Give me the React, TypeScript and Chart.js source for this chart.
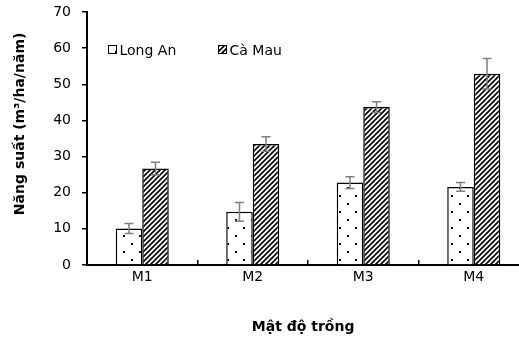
import React, { useEffect, useRef } from 'react';
import { Chart, registerables } from 'chart.js';

Chart.register(...registerables);

const categories = ['M1', 'M2', 'M3', 'M4'];
const seriesNames = ['Long An', 'Cà Mau'];
const longAn = [10.1, 14.7, 22.8, 21.6];
const longAnErr = [1.4, 2.6, 1.6, 1.2];
const caMau = [26.7, 33.5, 43.7, 52.9];
const caMauErr = [1.7, 2.0, 1.5, 4.2];
const yMin = 0;
const yMax = 70;
const yStep = 10;
const yTitle = '      Năng suất (m³/ha/năm)';
const xTitle = 'Mật độ trồng  ';

function makeDots(): CanvasPattern {
  const c = document.createElement('canvas');
  c.width = 16;
  c.height = 16;
  const g = c.getContext('2d')!;
  g.fillStyle = '#fff';
  g.fillRect(0, 0, 16, 16);
  g.fillStyle = '#000';
  g.fillRect(3, 3, 2, 2);
  g.fillRect(11, 11, 2, 2);
  return g.createPattern(c, 'repeat')!;
}

function makeHatch(): CanvasPattern {
  const s = 5;
  const c = document.createElement('canvas');
  c.width = s;
  c.height = s;
  const g = c.getContext('2d')!;
  g.fillStyle = '#fff';
  g.fillRect(0, 0, s, s);
  g.strokeStyle = '#000';
  g.lineWidth = 1.7;
  g.beginPath();
  g.moveTo(0, s);
  g.lineTo(s, 0);
  g.moveTo(-1, 1);
  g.lineTo(1, -1);
  g.moveTo(s - 1, s + 1);
  g.lineTo(s + 1, s - 1);
  g.stroke();
  return g.createPattern(c, 'repeat')!;
}

const errorBarPlugin = {
  id: 'errorBars',
  afterDatasetsDraw(chart: any) {
    const ctx = chart.ctx;
    const yScale = chart.scales.y;
    ctx.save();
    ctx.strokeStyle = '#7f7f7f';
    ctx.lineWidth = 1.5;
    chart.data.datasets.forEach((ds: any, i: number) => {
      const meta = chart.getDatasetMeta(i);
      meta.data.forEach((bar: any, j: number) => {
        const v = ds.data[j];
        const e = ds.errors[j];
        const x = bar.x;
        const yt = yScale.getPixelForValue(v + e);
        const yb = yScale.getPixelForValue(v - e);
        const cap = 4.5;
        ctx.beginPath();
        ctx.moveTo(x, yt);
        ctx.lineTo(x, yb);
        ctx.moveTo(x - cap, yt);
        ctx.lineTo(x + cap, yt);
        ctx.moveTo(x - cap, yb);
        ctx.lineTo(x + cap, yb);
        ctx.stroke();
      });
    });
    ctx.restore();
  },
};

const legendPlugin = {
  id: 'insideLegend',
  afterDraw(chart: any) {
    const ctx = chart.ctx;
    const area = chart.chartArea;
    ctx.save();
    ctx.font = '14px "DejaVu Sans"';
    ctx.textBaseline = 'alphabetic';
    ctx.textAlign = 'left';
    chart.data.datasets.forEach((ds: any, i: number) => {
      const bx = area.left + 21.5 + i * 110;
      const by = area.top + 33.5;
      ctx.fillStyle = ds.backgroundColor;
      ctx.fillRect(bx, by, 8, 8);
      ctx.strokeStyle = '#000';
      ctx.lineWidth = 1;
      ctx.strokeRect(bx, by, 8, 8);
      ctx.fillStyle = '#000';
      ctx.fillText(ds.label, bx + 11, by + 9.5);
    });
    ctx.restore();
  },
};

export default function App() {
  const ref = useRef<HTMLCanvasElement>(null);
  useEffect(() => {
    const canvas = ref.current!;
    Chart.defaults.font.family = '"DejaVu Sans", sans-serif';
    Chart.defaults.color = '#000';
    const chart = new Chart(canvas, {
      type: 'bar',
      data: {
        labels: categories,
        datasets: [
          {
            label: seriesNames[0],
            data: longAn,
            errors: longAnErr,
            backgroundColor: makeDots(),
            borderColor: '#000',
            borderWidth: 1.5,
            categoryPercentage: 0.48,
            barPercentage: 1,
          } as any,
          {
            label: seriesNames[1],
            data: caMau,
            errors: caMauErr,
            backgroundColor: makeHatch(),
            borderColor: '#000',
            borderWidth: 1.5,
            categoryPercentage: 0.48,
            barPercentage: 1,
          } as any,
        ],
      },
      options: {
        responsive: false,
        animation: false,
        devicePixelRatio: 1,
        layout: { padding: { left: 0, top: 12, right: 6, bottom: 0 } },
        plugins: {
          legend: { display: false },
          tooltip: { enabled: false },
        },
        scales: {
          x: {
            grid: {
              offset: true,
              drawOnChartArea: false,
              drawTicks: true,
              tickLength: -5,
              color: '#000',
              lineWidth: 1.5,
            },
            border: { display: true, color: '#000', width: 2 },
            ticks: { color: '#000', font: { size: 14 }, padding: 9 },
            title: {
              display: true,
              text: xTitle,
              color: '#000',
              font: { size: 14, weight: 'bold' },
              padding: { top: 0, bottom: 5 },
            },
            afterFit: (s: any) => {
              s.height = 76;
              s.paddingLeft = 0;
              s.paddingRight = 0;
            },
          },
          y: {
            min: yMin,
            max: yMax,
            ticks: { stepSize: yStep, color: '#000', font: { size: 14 }, padding: 11 },
            grid: {
              drawOnChartArea: false,
              drawTicks: true,
              tickLength: 5,
              color: '#000',
              lineWidth: 1.5,
            },
            border: { display: true, color: '#000', width: 2 },
            title: {
              display: true,
              text: yTitle,
              color: '#000',
              font: { size: 14, weight: 'bold' },
              padding: { top: 11.6, bottom: 0 },
            },
            afterFit: (s: any) => {
              s.width = 87;
              s.paddingTop = 0;
              s.paddingBottom = 0;
            },
          },
        },
      } as any,
      plugins: [errorBarPlugin, legendPlugin],
    });
    return () => chart.destroy();
  }, []);

  return (
    <div
      style={{
        position: 'fixed',
        left: 0,
        top: 0,
        width: 519,
        height: 341,
        overflow: 'hidden',
        background: '#fff',
      }}
    >
      <canvas ref={ref} width={535} height={341} style={{ display: 'block' }} />
    </div>
  );
}
